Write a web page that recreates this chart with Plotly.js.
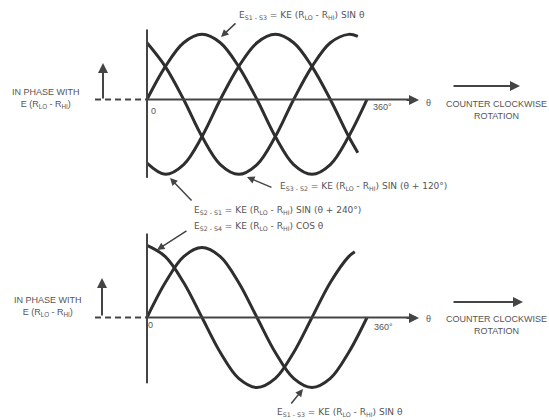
<!DOCTYPE html>
<html>
<head>
<meta charset="utf-8">
<script src="https://cdn.plot.ly/plotly-3.0.1.min.js"></script>
<style>
  html, body { margin: 0; padding: 0; background: #fff; }
  #plot { width: 549px; height: 420px; }
</style>
</head>
<body>
<div id="plot"></div>
<script>
// angle samples (degrees) and values, in units of one amplitude
const thetaFull = [0, 30, 60, 90, 120, 150, 180, 210, 240, 270, 300, 330, 360];
const thetaTopShort = [0, 30, 60, 90, 120, 150, 180, 210, 240, 270, 300, 330, 345];
const thetaCos = [0, 30, 60, 90, 120, 150, 180, 210, 240, 270, 300, 330, 340];

// upper diagram: three phases
const s1s3Top = [0, 0.47, 0.81, 0.93, 0.81, 0.47, 0, -0.53, -0.93, -1.07, -0.93, -0.53, 0];
const s3s2Top = [0.81, 0.47, 0, -0.53, -0.93, -1.07, -0.93, -0.53, 0, 0.47, 0.81, 0.93, 0.9];
const s2s1Top = [-0.91, -1.07, -0.93, -0.53, 0, 0.47, 0.81, 0.93, 0.81, 0.47, 0, -0.53, -0.76];

// lower diagram: sine and cosine
const s1s3Bot = [0, 0.5, 0.87, 1, 0.87, 0.5, 0, -0.5, -0.87, -1, -0.87, -0.5, 0];
const s2s4Bot = [1.03, 0.87, 0.5, 0, -0.5, -0.87, -1, -0.87, -0.5, 0, 0.5, 0.87, 0.94];

const ink = "#2e2e2e";
const textInk = "#555";
const W = 549, H = 420;
const px = (x) => x / W;
const py = (y) => 1 - y / H;

function curve(x, y, yaxis) {
  return {
    x: x, y: y, yaxis: yaxis, type: "scatter", mode: "lines",
    line: { color: ink, width: 3, shape: "spline", smoothing: 1 },
    hoverinfo: "skip", cliponaxis: false
  };
}

const data = [
  curve(thetaFull, s1s3Top, "y"),
  curve(thetaTopShort, s3s2Top, "y"),
  curve(thetaTopShort, s2s1Top, "y"),
  curve(thetaFull, s1s3Bot, "y2"),
  curve(thetaCos, s2s4Bot, "y2")
];

// axis frame for each diagram
function frame(yref, vTop, vBot) {
  return [
    { type: "line", xref: "x", yref: yref, x0: 0, x1: 0, y0: vBot, y1: vTop,
      line: { color: "#444", width: 2 } },
    { type: "line", xref: "x", yref: yref, x0: 0, x1: 440, y0: 0, y1: 0,
      line: { color: "#444", width: 2 } },
    { type: "line", xref: "x", yref: yref, x0: -85, x1: 0, y0: 0, y1: 0,
      line: { color: "#444", width: 2, dash: "6px,4px" } }
  ];
}

const shapes = [
  ...frame("y", 1.0, -1.12),
  ...frame("y2", 1.2, -0.94)
];

function arrow(x, y, ax, ay, opts) {
  return Object.assign({
    xref: "paper", yref: "paper", x: px(x), y: py(y),
    ax: ax - x, ay: ay - y, text: "", showarrow: true,
    arrowhead: 2, arrowsize: 1, arrowwidth: 1.5, arrowcolor: "#444"
  }, opts || {});
}

const small = { family: "DejaVu Sans, sans-serif", size: 9, color: textInk };
const big = { family: "Liberation Sans, Arial, sans-serif", size: 9, color: textInk };

function label(x, y, text, opts) {
  return Object.assign({
    xref: "paper", yref: "paper", x: px(x), y: py(y), text: text,
    showarrow: false, xanchor: "left", yanchor: "middle", font: small
  }, opts || {});
}

const rlo = "(R<sub>LO</sub> - R<sub>HI</sub>)";

const annotations = [
  // axis arrow heads
  arrow(419, 100, 405, 100, { arrowwidth: 2 }),
  arrow(419, 318, 405, 318, { arrowwidth: 2 }),
  // "in phase" up arrows
  arrow(103, 63, 103, 100, { arrowwidth: 2 }),
  arrow(102, 278, 102, 317, { arrowwidth: 2 }),
  // rotation arrows
  arrow(520, 86, 452, 86, { arrowwidth: 2 }),
  arrow(523, 302, 452, 302, { arrowwidth: 2 }),
  // equation pointers
  arrow(221, 37, 237, 22),
  arrow(247, 177, 273, 188),
  arrow(170, 178, 193, 202),
  arrow(157, 250, 188, 230),
  arrow(303, 389, 290, 405),

  label(10, 98, "IN PHASE WITH<br>E " + rlo, { font: big }),
  label(12, 306, "IN PHASE WITH<br>E " + rlo, { font: big }),
  label(153, 111, "0", { xanchor: "center", font: big }),
  label(150, 325, "0", { xanchor: "center", font: big }),
  label(382, 107, "360°", { xanchor: "center", font: big }),
  label(383, 327, "360°", { xanchor: "center", font: big }),
  label(428, 103, "θ", { xanchor: "center", font: big }),
  label(428, 319, "θ", { xanchor: "center", font: big }),
  label(496, 110, "COUNTER CLOCKWISE<br>ROTATION", { xanchor: "center", align: "center", font: big }),
  label(496, 325, "COUNTER CLOCKWISE<br>ROTATION", { xanchor: "center", align: "center", font: big }),

  label(237, 16, "E<sub>S1 - S3</sub> = KE " + rlo + " SIN θ"),
  label(278, 186, "E<sub>S3 - S2</sub> = KE " + rlo + " SIN (θ + 120°)"),
  label(192, 210, "E<sub>S2 - S1</sub> = KE " + rlo + " SIN (θ + 240°)"),
  label(192, 226, "E<sub>S2 - S4</sub> = KE " + rlo + " COS θ"),
  label(275, 412, "E<sub>S1 - S3</sub> = KE " + rlo + " SIN θ")
];

const hidden = { visible: false, showgrid: false, zeroline: false, fixedrange: true };

const layout = {
  width: W, height: H,
  margin: { l: 0, r: 0, t: 0, b: 0 },
  paper_bgcolor: "#fff", plot_bgcolor: "#fff",
  showlegend: false,
  xaxis: Object.assign({ range: [-240.5, 657.8] }, hidden),
  yaxis: Object.assign({ domain: [0.5, 1], range: [-1.579, 1.421] }, hidden),
  yaxis2: Object.assign({ domain: [0, 0.5], range: [-1.464, 1.536] }, hidden),
  shapes: shapes,
  annotations: annotations
};

Plotly.newPlot("plot", data, layout, { displayModeBar: false, staticPlot: true });
</script>
</body>
</html>
